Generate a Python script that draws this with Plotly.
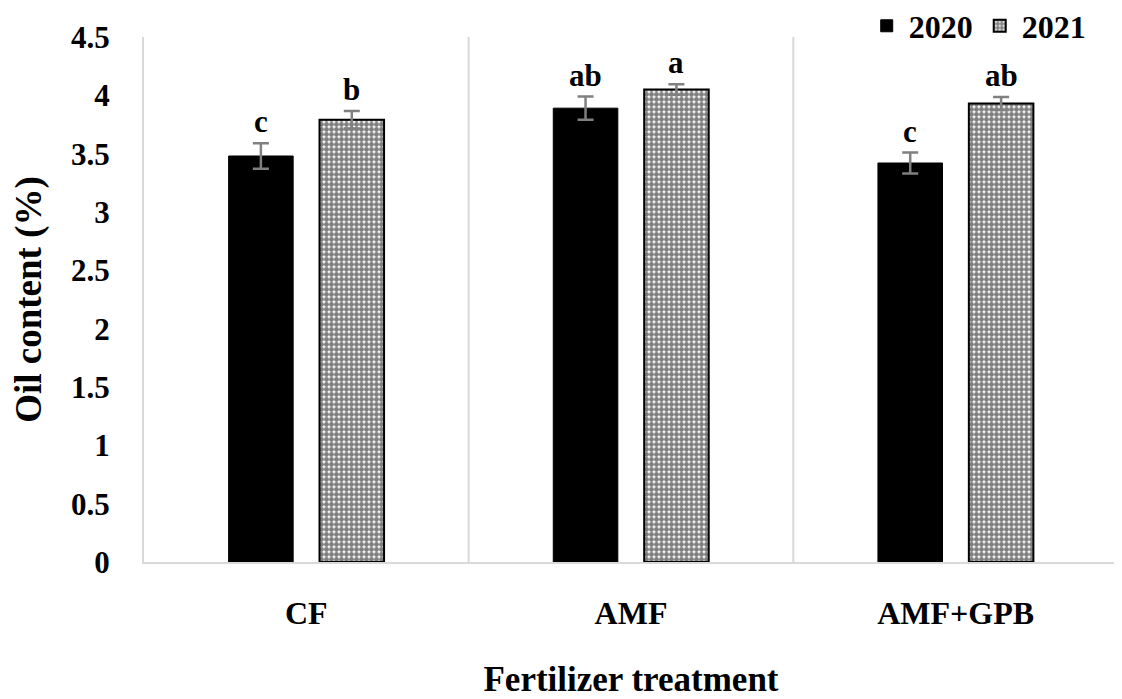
"""Oil content by fertilizer treatment, 2020 vs 2021."""

import plotly.graph_objects as go

treatments = ["CF", "AMF", "AMF+GPB"]
years = ["2020", "2021"]
oil_2020 = [3.48, 3.89, 3.42]
err_2020 = [0.11, 0.10, 0.09]
oil_2021 = [3.79, 4.05, 3.93]
err_2021 = [0.075, 0.045, 0.055]
letters_2020 = ["c", "ab", "c"]
letters_2021 = ["b", "a", "ab"]
y_ticks = [0, 0.5, 1, 1.5, 2, 2.5, 3, 3.5, 4, 4.5]

FONT = "Liberation Serif, Times New Roman, serif"
# the page body keeps its default 8px margin, so the figure is drawn 8px in
W, H = 1114, 691
M = dict(l=136, r=4, t=29, b=137, autoexpand=False)
BARGAP = 0.44

fig = go.Figure()
err_style = dict(type="data", color="#808080", thickness=2.5, width=8)

fig.add_trace(go.Bar(
    name=f"<b>{years[0]}</b>", x=treatments, y=oil_2020,
    marker=dict(color="black", line=dict(color="black", width=1)),
    error_y=dict(array=err_2020, **err_style),
))
fig.add_trace(go.Bar(
    name=f"<b>{years[1]}</b>", x=treatments, y=oil_2021,
    marker=dict(
        color="white",
        line=dict(color="black", width=2),
        pattern=dict(shape=".", fgcolor="black", bgcolor="white", size=5, solidity=0.75),
    ),
    error_y=dict(array=err_2021, **err_style),
))

# significance letters over the error bars
cat_px = (W - M["l"] - M["r"]) / len(treatments)
shift = (1 - BARGAP) * cat_px / 4
for i, t in enumerate(treatments):
    for vals, errs, lets, sgn in ((oil_2020, err_2020, letters_2020, -1),
                                  (oil_2021, err_2021, letters_2021, 1)):
        fig.add_annotation(
            x=t, y=vals[i] + errs[i], text=f"<b>{lets[i]}</b>",
            xshift=sgn * shift, yshift=2, yanchor="bottom", showarrow=False,
            font=dict(family=FONT, size=31, color="black"),
        )

# light category separators, Excel style
for pos in (0.5, 1.5, 2.5):
    fig.add_shape(type="line", xref="x", yref="paper", x0=pos, x1=pos, y0=0, y1=1,
                  line=dict(color="#d9d9d9", width=2), layer="below")

fig.update_layout(
    width=W, height=H, margin=M,
    paper_bgcolor="white", plot_bgcolor="white",
    barmode="group", bargap=BARGAP, bargroupgap=0.29,
    font=dict(family=FONT, color="black"),
    showlegend=True,
    legend=dict(
        orientation="h", x=0.972, xanchor="right", y=1.021, yanchor="middle",
        font=dict(family=FONT, size=32), itemwidth=34, traceorder="normal",
        tracegroupgap=0, bgcolor="rgba(0,0,0,0)",
    ),
    xaxis=dict(
        showgrid=False, showline=True, linecolor="#d9d9d9", linewidth=2,
        ticks="", tickfont=dict(size=32), ticklabelstandoff=22,
        tickvals=treatments, ticktext=[f"<b>{t}</b>" for t in treatments],
        title=dict(text="<b>Fertilizer treatment</b>", font=dict(size=35), standoff=40),
        range=[-0.5, 2.5],
    ),
    yaxis=dict(
        range=[0, 4.5], tickvals=y_ticks,
        ticktext=[f"<b>{v:g}</b>" for v in y_ticks],
        tickfont=dict(size=31), ticklabelstandoff=26, showgrid=False, zeroline=False,
        showline=True, linecolor="#d9d9d9", linewidth=2, ticks="",
        title=dict(text="<b>Oil content (%)</b>", font=dict(size=37), standoff=30),
    ),
)

fig.write_html("out.html")
